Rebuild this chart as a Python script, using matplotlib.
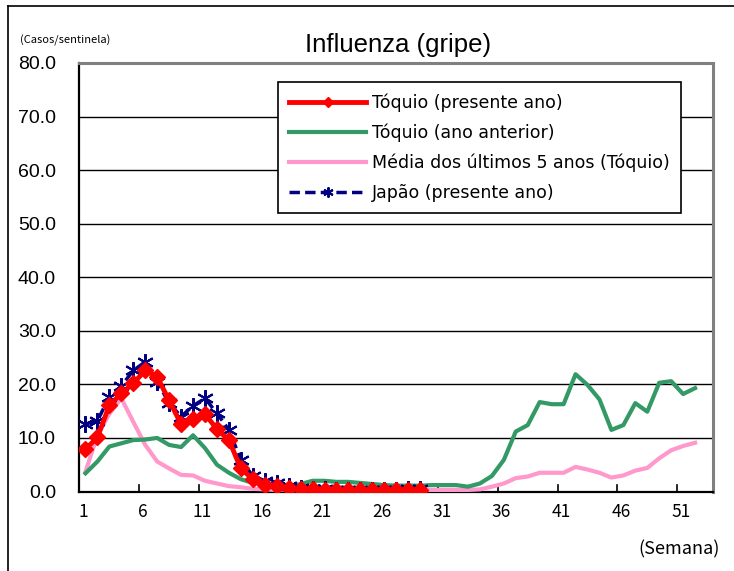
import numpy as np
import matplotlib.pyplot as plt
from matplotlib.lines import Line2D

plt.rcParams["font.family"] = ["Noto Sans CJK JP", "DejaVu Sans"]

# weekly values (cases per sentinel)
tokyo_now = [7.9, 10.1, 16.1, 18.3, 20.2, 22.6, 21.4, 17.0, 12.6, 13.5,
             14.5, 11.6, 9.6, 4.3, 2.3, 1.2, 1.0, 0.6, 0.4, 0.4,
             0.3, 0.2, 0.2, 0.2, 0.2, 0.2, 0.3, 0.3, 0.3]
japan_now = [12.6, 13.2, 17.7, 19.7, 22.6, 24.2, 20.5, 16.5, 14.0, 16.0,
             17.4, 14.6, 11.5, 5.9, 2.9, 2.0, 1.5, 1.0, 0.6, 0.5,
             0.4, 0.3, 0.3, 0.3, 0.3, 0.3, 0.3, 0.4, 0.4]
tokyo_prev = [3.4, 5.6, 8.4, 9.0, 9.6, 9.7, 10.0, 8.7, 8.3, 10.5,
              8.1, 5.0, 3.5, 2.3, 1.6, 1.4, 1.2, 1.0, 1.4, 2.0,
              2.0, 1.8, 1.8, 1.6, 1.4, 1.2, 1.1, 1.1, 1.1, 1.2,
              1.2, 1.2, 0.9, 1.5, 2.9, 5.9, 11.2, 12.4, 16.7, 16.3,
              16.3, 21.9, 19.9, 17.2, 11.5, 12.4, 16.5, 14.9, 20.3, 20.6,
              18.2, 19.3]
avg_5y = [3.7, 10.5, 14.5, 17.4, 13.0, 8.7, 5.6, 4.3, 3.1, 3.0,
          2.0, 1.5, 1.0, 0.8, 0.5, 0.4, 0.3, 0.3, 0.3, 0.3,
          0.3, 0.3, 0.3, 0.3, 0.3, 0.3, 0.3, 0.3, 0.3, 0.3,
          0.3, 0.3, 0.3, 0.4, 0.9, 1.5, 2.5, 2.8, 3.5, 3.5,
          3.5, 4.6, 4.1, 3.5, 2.6, 3.0, 3.9, 4.4, 6.2, 7.7,
          8.5, 9.1]
week_labels = [1, 6, 11, 16, 21, 26, 31, 36, 41, 46, 51]

fig = plt.figure(figsize=(7.34, 5.71), dpi=100)
ax = fig.add_axes([0.1083, 0.1392, 0.8631, 0.7505])

w_now = np.arange(1, len(tokyo_now) + 1)
w_prev = np.arange(1, len(tokyo_prev) + 1)

ax.plot(np.arange(1, len(avg_5y) + 1), avg_5y, color="#FF99CC", lw=3,
        label="Média dos últimos 5 anos (Tóquio)", zorder=3)
ax.plot(w_prev, tokyo_prev, color="#339966", lw=3,
        label="Tóquio (ano anterior)", zorder=4)
ax.plot(w_now, japan_now, color="#000080", lw=2.5, ls=(0, (3, 1.5)),
        marker=(6, 2, 0), markersize=12, markeredgewidth=1.5,
        label="Japão (presente ano)", zorder=5)
ax.plot(w_now, tokyo_now, color="#FF0000", lw=3.5, marker="D",
        markersize=8, label="Tóquio (presente ano)", zorder=6)

ax.set_xlim(0.5, 53.5)
ax.set_ylim(0, 80)
ax.set_yticks(np.arange(0, 81, 10))
ax.set_yticklabels([f"{v:.1f}" for v in np.arange(0, 81, 10)],
                   fontsize=14, family="Liberation Sans")
ax.set_xticks([v - 0.2 for v in week_labels])
ax.set_xticklabels([str(v) for v in week_labels], fontsize=12.5)
ax.tick_params(axis="x", length=0, pad=8)
ax.tick_params(axis="y", length=0, pad=17)
for b in np.arange(5.5, 53, 5):
    ax.plot([b, b], [0, 1.3], color="black", lw=1.2, zorder=2)
ax.grid(axis="y", color="black", lw=1.0)
ax.set_axisbelow(True)

for s in ("left", "bottom"):
    ax.spines[s].set_color("black")
    ax.spines[s].set_linewidth(1.6)
for s in ("top", "right"):
    ax.spines[s].set_color("#808080")
    ax.spines[s].set_linewidth(2.2)

h, l = ax.get_legend_handles_labels()
order = [3, 1, 0, 2]
leg = ax.legend([h[i] for i in order], [l[i] for i in order],
                loc="upper left", bbox_to_anchor=(0.3134, 0.9557),
                borderaxespad=0, prop={"family": "DejaVu Sans", "size": 12.5},
                frameon=True, fancybox=False,
                edgecolor="black", framealpha=1, handlelength=4.4,
                labelspacing=0.68, borderpad=0.65, handletextpad=0.35,
                markerscale=0.6)
leg.get_frame().set_linewidth(1.2)

fig.text(398 / 734, 1 - 45 / 571, "Influenza (gripe)", ha="center",
         va="center", fontsize=18.5, family="Liberation Sans")
fig.text(20 / 734, 1 - 40 / 571, "(Casos/sentinela)", ha="left",
         va="center", fontsize=8)
fig.text(720 / 734, 1 - 549 / 571, "(Semana)", ha="right", va="center",
         fontsize=13)

fig.add_artist(Line2D([8 / 734, 1], [1 - 6 / 571, 1 - 6 / 571],
                      color="black", lw=1.2))
fig.add_artist(Line2D([8 / 734, 8 / 734], [0, 1 - 6 / 571],
                      color="black", lw=1.2))

fig.savefig("out.png", dpi=100)
